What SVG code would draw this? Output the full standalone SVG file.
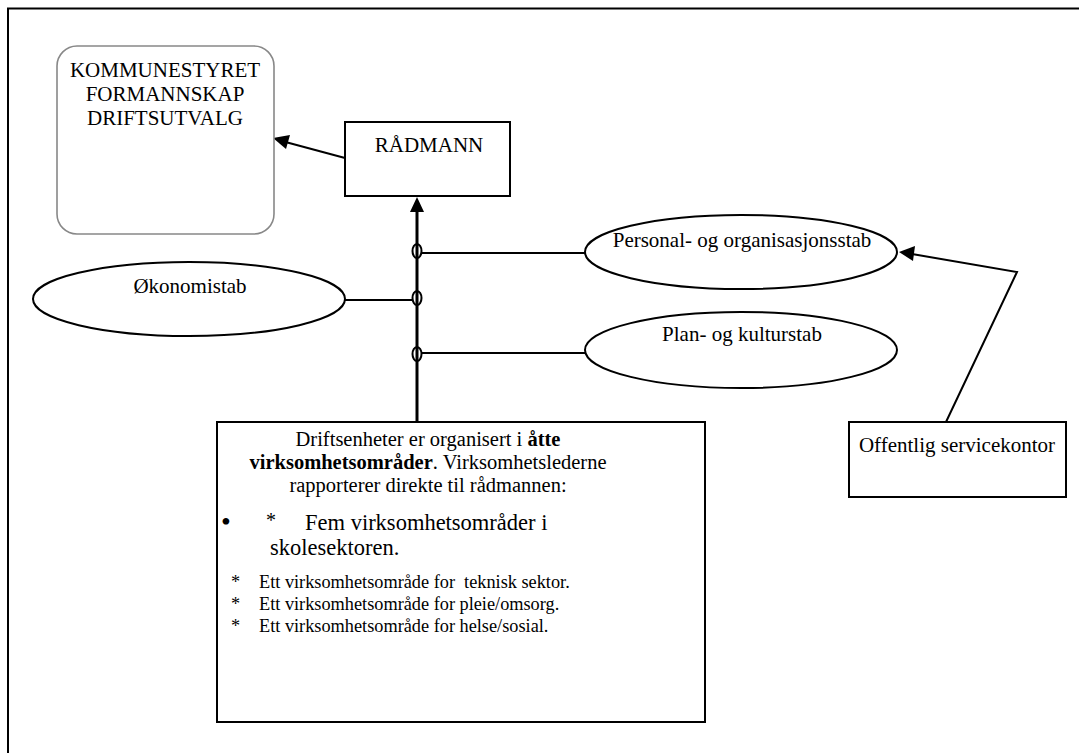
<svg xmlns="http://www.w3.org/2000/svg" width="1079" height="753" viewBox="0 0 1079 753">
  <style>
    text { font-family: "Liberation Serif", "Times New Roman", serif; fill: #000; }
    .lbl { font-size: 21px; }
    .box { fill: #fff; stroke: #000; stroke-width: 2; }
    .oval { fill: #fff; stroke: #000; stroke-width: 2; }
    .line { fill: none; stroke: #000; stroke-width: 2; }
    .thick { fill: none; stroke: #000; stroke-width: 3; }
    .body { font-size: 20.5px; }
    .big { font-size: 22.5px; }
    .small { font-size: 18.3px; }
  </style>

  <rect width="1079" height="753" fill="#fff"/>

  <!-- page frame -->
  <rect x="8" y="8.5" width="1100" height="800" fill="none" stroke="#000" stroke-width="2"/>

  <!-- connectors -->
  <g id="connectors">
    <line class="line" x1="345" y1="158" x2="278" y2="140"/>
    <path d="M273,138 L290,135 L286,149 z" fill="#000"/>
    <line class="thick" x1="417" y1="422" x2="417" y2="210"/>
    <path d="M417,197 L410,212 L424,212 z" fill="#000"/>
    <line class="line" x1="421" y1="253" x2="585" y2="253"/>
    <line class="line" x1="345" y1="300" x2="412" y2="300"/>
    <line class="line" x1="421" y1="353" x2="585" y2="353"/>
    <ellipse class="line" cx="417" cy="251" rx="4.5" ry="7"/>
    <ellipse class="line" cx="417" cy="298" rx="4.5" ry="7"/>
    <ellipse class="line" cx="417" cy="354" rx="4.5" ry="7"/>
    <polyline class="line" points="946,422 1017,272 912,254"/>
    <path d="M899,252 L915,246 L913,261 z" fill="#000"/>
  </g>

  <!-- governing bodies -->
  <g id="kommunestyret">
    <rect x="57" y="46" width="217" height="188" rx="20" ry="20" fill="#fff" stroke="#888" stroke-width="1.6"/>
    <text class="lbl" x="165" y="77" text-anchor="middle">KOMMUNESTYRET</text>
    <text class="lbl" x="165" y="101" text-anchor="middle">FORMANNSKAP</text>
    <text class="lbl" x="165" y="125" text-anchor="middle">DRIFTSUTVALG</text>
  </g>

  <g id="radmann">
    <rect class="box" x="345" y="122" width="165" height="74"/>
    <text class="lbl" x="429" y="152" text-anchor="middle">RÅDMANN</text>
  </g>

  <g id="personal">
    <ellipse class="oval" cx="741" cy="252" rx="156" ry="37"/>
    <text class="lbl" x="742" y="247" text-anchor="middle">Personal- og organisasjonsstab</text>
  </g>

  <g id="okonomi">
    <ellipse class="oval" cx="189" cy="299" rx="156" ry="37"/>
    <text class="lbl" x="190" y="293" text-anchor="middle">Økonomistab</text>
  </g>

  <g id="plan">
    <ellipse class="oval" cx="741" cy="350" rx="156" ry="38"/>
    <text class="lbl" x="742" y="341" text-anchor="middle">Plan- og kulturstab</text>
  </g>

  <g id="driftsenheter">
    <rect class="box" x="217" y="422" width="488" height="300"/>
    <text class="body" x="428" y="446" text-anchor="middle">Driftsenheter er organisert i <tspan font-weight="bold">åtte</tspan></text>
    <text class="body" x="428" y="469" text-anchor="middle"><tspan font-weight="bold">virksomhetsområder</tspan>. Virksomhetslederne</text>
    <text class="body" x="428" y="492" text-anchor="middle">rapporterer direkte til rådmannen:</text>
    <text x="221" y="531" font-size="28">•</text>
    <text x="266" y="527" font-size="20">*</text>
    <text class="big" x="305" y="530">Fem virksomhetsområder i</text>
    <text class="big" x="270" y="555">skolesektoren.</text>
    <text class="small" x="231" y="588">*</text>
    <text class="small" x="259" y="588" xml:space="preserve">Ett virksomhetsområde for  teknisk sektor.</text>
    <text class="small" x="231" y="610">*</text>
    <text class="small" x="259" y="610">Ett virksomhetsområde for pleie/omsorg.</text>
    <text class="small" x="231" y="632">*</text>
    <text class="small" x="259" y="632">Ett virksomhetsområde for helse/sosial.</text>
  </g>

  <g id="servicekontor">
    <rect class="box" x="849" y="422" width="217" height="75"/>
    <text class="lbl" x="957" y="452" text-anchor="middle">Offentlig servicekontor</text>
  </g>
</svg>
